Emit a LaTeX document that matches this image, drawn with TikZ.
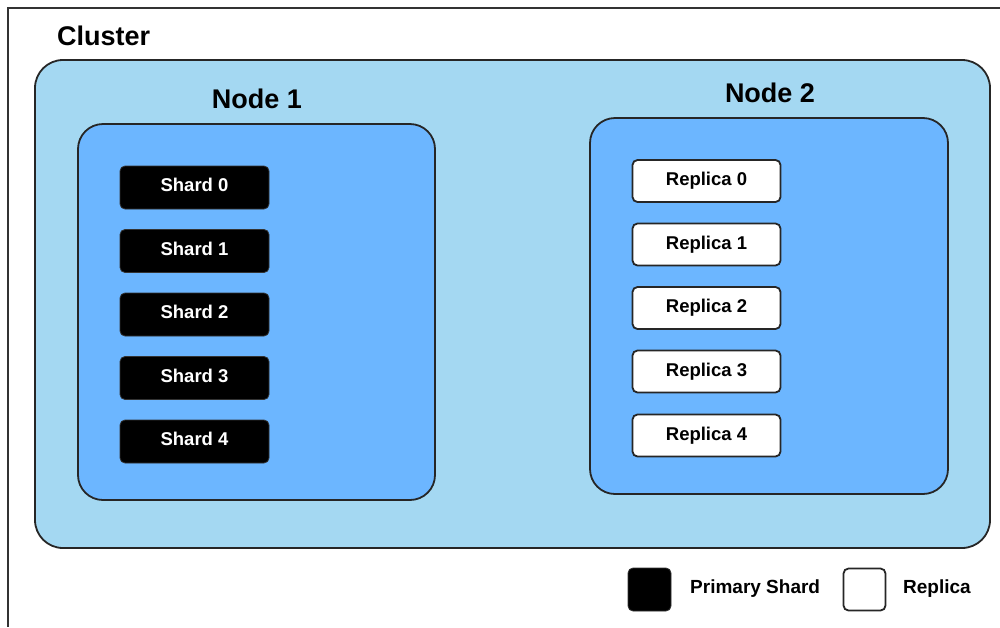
\documentclass[tikz,border=0pt]{standalone}
\usepackage{fontspec}
\setmainfont{Liberation Sans}
\definecolor{clusterblue}{RGB}{164,216,242}
\definecolor{nodeblue}{RGB}{108,182,255}
\tikzset{
  clusterbox/.style={draw=black!85, line width=1.8pt, fill=clusterblue, rounded corners=28pt},
  hostbox/.style={draw=black!85, line width=1.8pt, fill=nodeblue, rounded corners=25pt},
  primary/.style={fill=black, draw=black!80, line width=0.8pt, rounded corners=5pt,
    minimum width=149pt, minimum height=43pt, inner sep=0pt},
  replica/.style={fill=white, draw=black!85, line width=1.8pt, rounded corners=5pt,
    minimum width=148pt, minimum height=42pt, inner sep=0pt},
  boxlabel/.style={inner sep=0pt, font=\fontsize{18.5}{20}\selectfont\bfseries},
  title/.style={font=\fontsize{27}{30}\selectfont\bfseries, inner sep=0pt},
  legendtext/.style={font=\fontsize{19}{21}\selectfont\bfseries, inner sep=0pt, anchor=west},
}
\begin{document}
\begin{tikzpicture}[x=1pt,y=-1pt]
  \useasboundingbox (0,0) rectangle (1000,627);
  % outer frame (top and left edges)
  \coordinate (frameTR) at (1000,8);
  \coordinate (frameTL) at (8,8);
  \coordinate (frameBL) at (8,627);
  \draw[line width=1.1pt, black!80] (frameTR) -- (frameTL) -- (frameBL);

  % cluster
  \draw[clusterbox] (35,60) rectangle (990,548);
  \node[title, anchor=west] (cluster) at (57,36) {Cluster};

  % node 1 with primary shards (labels sit a little above centre)
  \draw[hostbox] (78,124) rectangle (435,500);
  \node[title] (node1) at (257,99) {Node 1};
  \foreach \i/\y in {0/187.5,1/251,2/314.5,3/378,4/441.5}{
    \node[primary] (shard\i) at (194.5,\y) {};
    \node[boxlabel, text=white] (shardlabel\i) at ([yshift=2.5pt]shard\i.center) {Shard \i};
  }

  % node 2 with replicas
  \draw[hostbox] (590,118) rectangle (948,494);
  \node[title] (node2) at (770,93) {Node 2};
  \foreach \i/\y in {0/181,1/244.5,2/308,3/371.5,4/435.5}{
    \node[replica] (replica\i) at (706.5,\y) {};
    \node[boxlabel, text=black] (replicalabel\i) at (replica\i.center) {Replica \i};
  }

  % legend
  \node[fill=black, draw=black!80, line width=0.8pt, rounded corners=5pt,
        minimum width=43pt, minimum height=43pt, inner sep=0pt] (legprimary) at (649.5,589.5) {};
  \node[legendtext] (legprimarytext) at (690,588.5) {Primary Shard};
  \node[fill=white, draw=black!85, line width=1.8pt, rounded corners=5pt,
        minimum width=42pt, minimum height=42pt, inner sep=0pt] (legreplica) at (864.5,589.5) {};
  \node[legendtext] (legreplicatext) at (903,588.5) {Replica};
\end{tikzpicture}
\end{document}
